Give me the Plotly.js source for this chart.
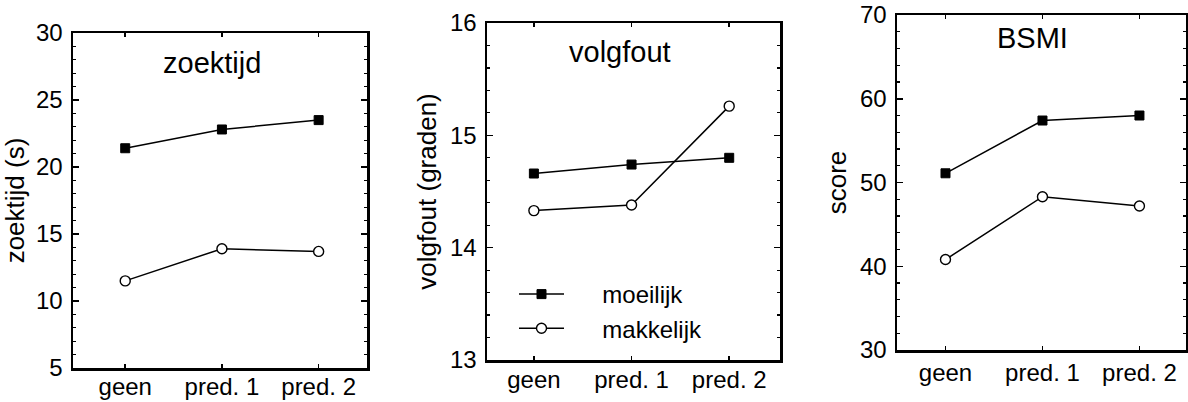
<!DOCTYPE html>
<html>
<head>
<meta charset="utf-8">
<script src="https://cdn.plot.ly/plotly-3.0.1.min.js"></script>
<style>html,body{margin:0;padding:0;background:#fff}#chart{width:1188px;height:402px}</style>
</head>
<body>
<div id="chart"></div>
<script>
const categories = ["geen", "pred. 1", "pred. 2"];
const seriesNames = ["moeilijk", "makkelijk"];
const panelTitles = ["zoektijd", "volgfout", "BSMI"];
const yTitles = ["zoektijd (s)", "volgfout (graden)", "score"];

const zoektijdMoeilijk = [21.4, 22.8, 23.5];
const zoektijdMakkelijk = [11.5, 13.9, 13.7];
const volgfoutMoeilijk = [14.66, 14.74, 14.80];
const volgfoutMakkelijk = [14.33, 14.38, 15.26];
const bsmiMoeilijk = [51.1, 57.4, 58.0];
const bsmiMakkelijk = [40.8, 48.3, 47.2];

const W = 1188, H = 402;
const FONT = "Liberation Sans, Arial, Helvetica, sans-serif";
const PAD = "\u00a0\u00a0\u00a0\u00a0\u00a0";

// panel boxes in pixels: [left, right, top, bottom]
const boxes = [[73, 367, 33, 368], [487, 780, 23, 360], [897, 1186, 15, 350]];
const yRanges = [[5, 30], [13, 16], [30, 70]];
const yDticks = [5, 1, 10];
const yMinor = [1, 0.2, 2];
const xRanges = [[-0.54, 2.5], [-0.48, 2.52], [-0.5, 2.48]];
const xStandoff = [-4, -3, 0];
const titlePos = [[212, 63], [620, 52], [1032, 38]];
const data = [
  [zoektijdMoeilijk, zoektijdMakkelijk],
  [volgfoutMoeilijk, volgfoutMakkelijk],
  [bsmiMoeilijk, bsmiMakkelijk]
];

const traces = [];
const layout = {
  width: W, height: H,
  margin: {l: 0, r: 0, t: 0, b: 0},
  paper_bgcolor: "#fff", plot_bgcolor: "#fff",
  font: {family: FONT, color: "#000", size: 24},
  showlegend: true,
  legend: {
    x: 514 / W, y: 1 - 272 / H, xanchor: "left", yanchor: "top",
    font: {family: FONT, size: 24, color: "#000"},
    bgcolor: "rgba(0,0,0,0)", itemwidth: 45, tracegroupgap: 0
  },
  annotations: []
};

for (let p = 0; p < 3; p++) {
  const sfx = p === 0 ? "" : String(p + 1);
  const [l, r, t, b] = boxes[p];
  for (let s = 0; s < 2; s++) {
    traces.push({
      x: categories, y: data[p][s],
      xaxis: "x" + sfx, yaxis: "y" + sfx,
      type: "scatter", mode: "lines+markers",
      name: PAD + seriesNames[s], showlegend: p === 1,
      line: {color: "#000", width: 1.5},
      marker: s === 0
        ? {symbol: "square", size: 9, color: "#000", line: {color: "#000", width: 1}}
        : {symbol: "circle", size: 10, color: "#fff", line: {color: "#000", width: 1.4}},
      cliponaxis: false
    });
  }
  layout["xaxis" + sfx] = {
    domain: [l / W, r / W], anchor: "y" + sfx,
    type: "category", range: xRanges[p],
    showline: true, mirror: "ticks", linecolor: "#000", linewidth: 2.5,
    ticks: "inside", ticklen: 4, tickcolor: "#000", tickwidth: 1.5,
    showgrid: false, zeroline: false, fixedrange: true,
    ticklabelstandoff: xStandoff[p],
    tickfont: {family: FONT, size: 24, color: "#000"}
  };
  layout["yaxis" + sfx] = {
    domain: [1 - b / H, 1 - t / H], anchor: "x" + sfx,
    range: yRanges[p], dtick: yDticks[p], tick0: yRanges[p][0],
    showline: true, mirror: "ticks", linecolor: "#000", linewidth: 2.5,
    ticks: "inside", ticklen: 6, tickcolor: "#000", tickwidth: 1.5,
    minor: {ticks: "inside", dtick: yMinor[p], ticklen: 3, tickcolor: "#000", tickwidth: 1.2, showgrid: false},
    showgrid: false, zeroline: false, fixedrange: true,
    tickfont: {family: FONT, size: 24, color: "#000"},
    ticklabelstandoff: 3,
    title: {text: yTitles[p], font: {family: FONT, size: 26, color: "#000"}, standoff: 6}
  };
  layout.annotations.push({
    text: panelTitles[p], xref: "paper", yref: "paper",
    x: titlePos[p][0] / W, y: 1 - titlePos[p][1] / H,
    xanchor: "center", yanchor: "middle", showarrow: false,
    font: {family: FONT, size: 29, color: "#000"}
  });
}

Plotly.newPlot("chart", traces, layout, {staticPlot: true, displayModeBar: false});
</script>
</body>
</html>
